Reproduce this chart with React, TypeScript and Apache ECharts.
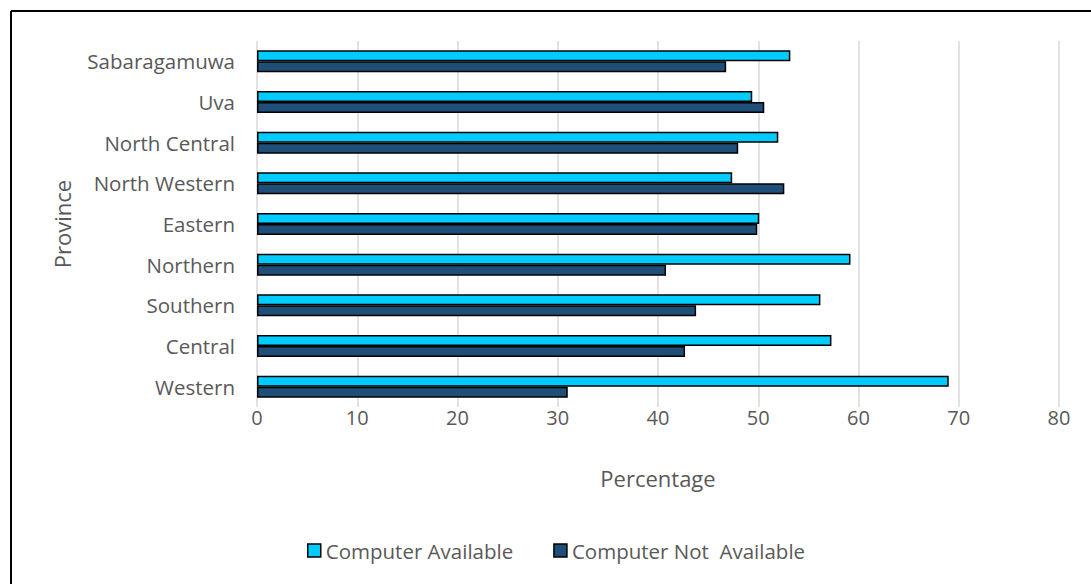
import React, { useEffect, useRef } from "react";
import * as echarts from "echarts";

const provinces = ["Western", "Central", "Southern", "Northern", "Eastern", "North Western", "North Central", "Uva", "Sabaragamuwa"];
const availableValues = [69.0, 57.3, 56.2, 59.2, 50.1, 47.4, 52.0, 49.4, 53.2];
const notAvailableValues = [31.0, 42.7, 43.8, 40.8, 49.9, 52.6, 48.0, 50.6, 46.8];
const seriesNames = ["Computer Available", "Computer Not  Available"];
const xTicks = { min: 0, max: 80, interval: 10 };

const FONT = "'Open Sans', 'Liberation Sans', sans-serif";
const GREY = "#595959";

export default function App() {
  const ref = useRef<HTMLDivElement>(null);
  useEffect(() => {
    if (!ref.current) return;
    const chart = echarts.init(ref.current, null, { renderer: "svg" });
    chart.setOption({
      animation: false,
      backgroundColor: "#ffffff",
      textStyle: { fontFamily: FONT },
      graphic: [
        { type: "line", shape: { x1: 11, y1: 11, x2: 1091, y2: 11 }, style: { stroke: "#000", lineWidth: 2 } },
        { type: "line", shape: { x1: 11, y1: 11, x2: 11, y2: 584 }, style: { stroke: "#000", lineWidth: 2 } },
      ],
      grid: { left: 257, right: 32, top: 41, bottom: 177, containLabel: false },
      legend: {
        top: 535,
        left: 302,
        itemWidth: 13,
        itemHeight: 13,
        itemGap: 40,
        icon: "rect",
        textStyle: { fontFamily: FONT, fontSize: 20.5, color: GREY },
        data: seriesNames.map((n) => ({ name: n, itemStyle: { borderColor: "#000", borderWidth: 1.5 } })),
      },
      xAxis: {
        type: "value",
        min: xTicks.min,
        max: xTicks.max,
        interval: xTicks.interval,
        name: "Percentage",
        nameLocation: "middle",
        nameGap: 60,
        nameTextStyle: { fontFamily: FONT, fontSize: 22, color: GREY },
        axisLabel: { fontFamily: FONT, fontSize: 20, color: GREY, margin: 0 },
        axisLine: { show: false },
        axisTick: { show: false },
        splitLine: { show: true, lineStyle: { color: "#d9d9d9", width: 1.5 } },
      },
      yAxis: {
        type: "category",
        data: provinces,
        name: "Province",
        nameLocation: "middle",
        nameGap: 184,
        nameRotate: 90,
        nameTextStyle: { fontFamily: FONT, fontSize: 22, color: GREY },
        axisLabel: { fontFamily: FONT, fontSize: 20.5, color: GREY, margin: 22 },
        axisLine: { show: false },
        axisTick: { show: false },
        splitLine: { show: false },
      },
      series: [
        {
          name: seriesNames[0],
          type: "bar",
          data: availableValues,
          barWidth: 11,
          barGap: "0%",
          itemStyle: { color: "#00CCFF", borderColor: "#000", borderWidth: 1.5 },
          z: 3,
        },
        {
          name: seriesNames[1],
          type: "bar",
          data: notAvailableValues,
          barWidth: 11,
          barGap: "0%",
          itemStyle: { color: "#1F4E79", borderColor: "#000", borderWidth: 1.5 },
          z: 2,
        },
      ],
    });
    return () => chart.dispose();
  }, []);
  return <div ref={ref} style={{ position: "fixed", left: 0, top: 0, width: 1091, height: 584 }} />;
}
